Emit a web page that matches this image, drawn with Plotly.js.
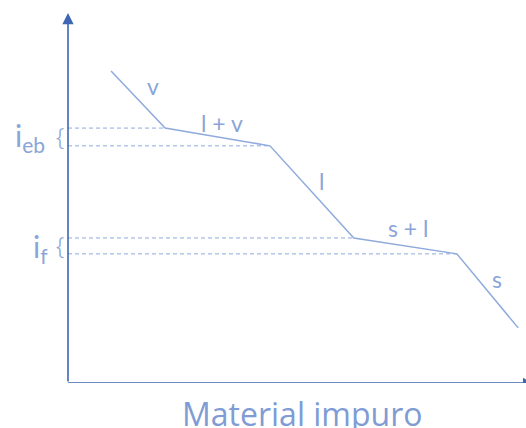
<!DOCTYPE html>
<html>
<head>
<meta charset="utf-8">
<script src="https://cdn.plot.ly/plotly-3.0.1.min.js"></script>
<style>html,body{margin:0;padding:0;background:#fff}#chart{width:526px;height:428px}</style>
</head>
<body>
<div id="chart"></div>
<script>
// Cooling curve of an impure material (schematic, arbitrary units)
const curveX = [9.4, 21.2, 44.1, 62.4, 84.9, 98.3];
const curveY = [84.3, 68.9, 64.1, 39.2, 34.9, 14.9];
const segmentLabels = ['v', 'l + v', 'l', 's + l', 's'];
const xAxisLabel = 'Material impuro';
const levelLabels = ['i<sub>eb</sub>', 'i<sub>f</sub>'];

const lineColor = '#8FAADC';
const textColor = '#8AA5D8';
const axisColor = '#3F66B2';
const font = 'Lato, "Open Sans", sans-serif';

const traces = [];
// dashed reference lines at the plateau corners (points 1..4)
for (let i = 1; i <= 4; i++) {
  traces.push({
    x: [0, curveX[i]], y: [curveY[i], curveY[i]],
    mode: 'lines', line: {color: lineColor, width: 1, dash: '4px,3px'},
    hoverinfo: 'skip', showlegend: false
  });
}
traces.push({
  x: curveX, y: curveY, mode: 'lines',
  line: {color: lineColor, width: 1.5}, hoverinfo: 'skip', showlegend: false
});

const shifts = [[15, 14], [4, 14], [10, 11], [3, 18], [9, 12]];
const annotations = [];
segmentLabels.forEach((t, i) => {
  annotations.push({
    x: (curveX[i] + curveX[i + 1]) / 2, y: (curveY[i] + curveY[i + 1]) / 2,
    xref: 'x', yref: 'y', text: t, showarrow: false,
    xshift: shifts[i][0], yshift: shifts[i][1],
    font: {family: font, size: 23, color: textColor}
  });
});
// level labels (boiling / fusion ranges)
const pairs = [[1, 2], [3, 4]];
const lblShift = [[-21, 0], [-18, -2]];
pairs.forEach((p, k) => {
  const ym = (curveY[p[0]] + curveY[p[1]]) / 2;
  annotations.push({
    x: 0, y: ym, xref: 'x', yref: 'y', text: levelLabels[k], showarrow: false,
    xanchor: 'right', yanchor: 'middle', xshift: lblShift[k][0], yshift: lblShift[k][1],
    font: {family: font, size: 30, color: textColor}
  });
  annotations.push({
    x: 0, y: ym, xref: 'x', yref: 'y', text: '{', showarrow: false,
    xanchor: 'center', yanchor: 'middle', xshift: -8, yshift: 1,
    font: {family: '"Noto Sans"', size: 23, weight: 300, color: textColor}
  });
});
// y axis arrow
annotations.push({
  x: 0, y: 100, xref: 'x', yref: 'y', ax: 0, ay: 0, axref: 'x', ayref: 'y',
  text: '', showarrow: true, arrowhead: 2, arrowsize: 1.4, arrowwidth: 1.6,
  arrowcolor: axisColor, standoff: 0
});
annotations.push({
  x: 0.511, y: 0, xref: 'paper', yref: 'paper', yanchor: 'top', yshift: -7,
  text: xAxisLabel, showarrow: false,
  font: {family: '"Open Sans", sans-serif', size: 32, color: '#7F9CD4'}
});

// x axis line with arrowhead running past the right edge
const shapes = [
  {type: 'line', xref: 'paper', yref: 'y', x0: 0, y0: 0, x1: 0.995, y1: 0,
   line: {color: axisColor, width: 1.6}},
  {type: 'path', xref: 'paper', yref: 'y',
   path: 'M 0.9934 1.4 L 1.0153 0 L 0.9934 -1.4 Z',
   fillcolor: axisColor, line: {color: axisColor, width: 0}}
];

const layout = {
  width: 526, height: 428,
  margin: {l: 68, r: 0, t: 13, b: 45},
  paper_bgcolor: '#fff', plot_bgcolor: '#fff',
  xaxis: {range: [0, 100], visible: false, fixedrange: true},
  yaxis: {range: [0, 100], visible: false, fixedrange: true},
  annotations: annotations,
  shapes: shapes,
  showlegend: false
};
Plotly.newPlot('chart', traces, layout, {displayModeBar: false, staticPlot: true});
</script>
</body>
</html>
